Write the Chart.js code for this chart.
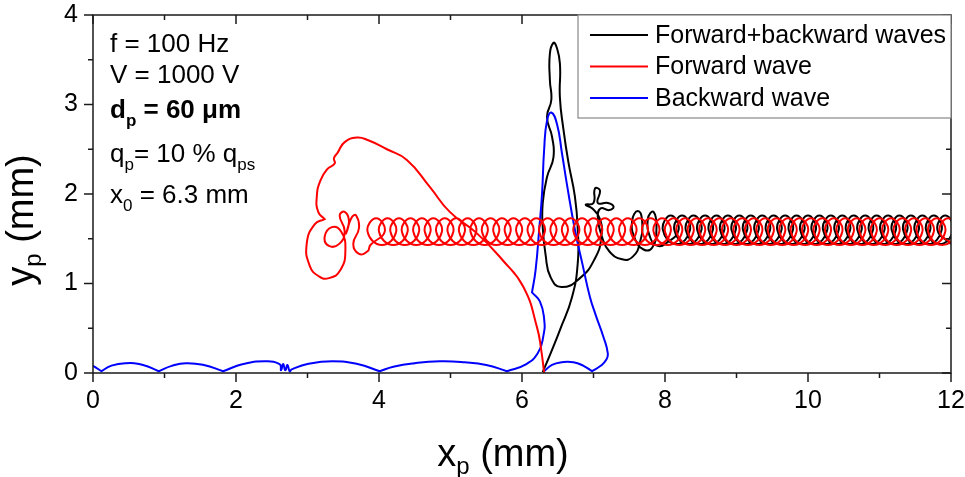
<!DOCTYPE html>
<html>
<head>
<meta charset="utf-8">
<script src="https://cdn.jsdelivr.net/npm/chart.js@4.4.0/dist/chart.umd.min.js"></script>
<style>
  html, body { margin: 0; padding: 0; background: #fff; }
</style>
</head>
<body>
<canvas id="chart" width="965" height="477"></canvas>
<script>
// Axis ticks (mm)
const xTicks = [0, 2, 4, 6, 8, 10, 12];
const yTicks = [0, 1, 2, 3, 4];
const xMinor = [1, 3, 5, 7, 9, 11];
const yMinor = [0.5, 1.5, 2.5, 3.5];

const seriesLabels = ['Forward+backward waves', 'Forward wave', 'Backward wave'];
const seriesColors = ['#000000', '#ff0000', '#0000ff'];

// Forward+backward waves: [x, y] in mm
const blackSpike = [
  [6.29,0.01],[6.40,0.22],[6.53,0.48],[6.70,0.85],[6.78,1.23],[6.78,1.60],[6.74,1.97],
  [6.65,2.35],[6.58,2.72],[6.53,3.08],[6.53,3.46],[6.48,3.65],[6.44,3.69],[6.39,3.57],
  [6.39,3.27],[6.41,3.05],[6.35,2.86],[6.42,2.64],[6.44,2.41],[6.35,2.19],[6.29,1.90],
  [6.29,1.63],[6.33,1.32],[6.40,1.07],[6.55,0.96],[6.81,1.06],[7.02,1.28],[7.11,1.52],
  [7.09,1.72],[6.98,1.84],[6.89,1.88]
];
const blackCurl = [
  [7.00,1.90],[7.02,2.06],[7.09,2.04],[7.06,1.90],[7.20,1.90],[7.28,1.86],[7.22,1.82],
  [7.10,1.84],[7.06,1.74],[7.12,1.52],[7.22,1.36],[7.40,1.27],[7.55,1.30],[7.65,1.46],
  [7.68,1.70],[7.62,1.81],[7.54,1.70],[7.58,1.50],[7.70,1.38],[7.82,1.40],[7.88,1.60],
  [7.84,1.80],[7.76,1.72],[7.80,1.50],[7.90,1.42]
];
const blackLoops = [
  [8.00,1.44],[8.19,1.60],[8.08,1.76],[7.97,1.60],
  [8.16,1.44],[8.35,1.60],[8.24,1.76],[8.13,1.60],
  [8.32,1.44],[8.51,1.60],[8.40,1.76],[8.29,1.60],
  [8.48,1.44],[8.67,1.60],[8.56,1.76],[8.45,1.60],
  [8.64,1.44],[8.83,1.60],[8.72,1.76],[8.61,1.60],
  [8.80,1.44],[8.99,1.60],[8.88,1.76],[8.77,1.60],
  [8.96,1.44],[9.15,1.60],[9.04,1.76],[8.93,1.60],
  [9.12,1.44],[9.31,1.60],[9.20,1.76],[9.09,1.60],
  [9.28,1.44],[9.47,1.60],[9.36,1.76],[9.25,1.60],
  [9.44,1.44],[9.63,1.60],[9.52,1.76],[9.41,1.60],
  [9.60,1.44],[9.79,1.60],[9.68,1.76],[9.57,1.60],
  [9.76,1.44],[9.95,1.60],[9.84,1.76],[9.73,1.60],
  [9.92,1.44],[10.11,1.60],[10.00,1.76],[9.89,1.60],
  [10.08,1.44],[10.27,1.60],[10.16,1.76],[10.05,1.60],
  [10.24,1.44],[10.43,1.60],[10.32,1.76],[10.21,1.60],
  [10.40,1.44],[10.59,1.60],[10.48,1.76],[10.37,1.60],
  [10.56,1.44],[10.75,1.60],[10.64,1.76],[10.53,1.60],
  [10.72,1.44],[10.91,1.60],[10.80,1.76],[10.69,1.60],
  [10.88,1.44],[11.07,1.60],[10.96,1.76],[10.85,1.60],
  [11.04,1.44],[11.23,1.60],[11.12,1.76],[11.01,1.60],
  [11.20,1.44],[11.39,1.60],[11.28,1.76],[11.17,1.60],
  [11.36,1.44],[11.55,1.60],[11.44,1.76],[11.33,1.60],
  [11.52,1.44],[11.71,1.60],[11.60,1.76],[11.49,1.60],
  [11.68,1.44],[11.87,1.60],[11.76,1.76],[11.65,1.60],
  [11.84,1.44],[12.03,1.60],[11.92,1.76],[11.81,1.60],
  [12.00,1.44]
];

// Forward wave
const redApproach = [
  [6.31,0.00],[6.27,0.25],[6.21,0.51],[6.02,0.96],[5.73,1.26],[5.37,1.56],[4.99,1.80],
  [4.71,2.08],[4.39,2.38],[4.11,2.50],[3.85,2.60],[3.69,2.63],[3.52,2.58],[3.42,2.46],
  [3.37,2.40],[3.38,2.34],[3.28,2.28],[3.18,2.15],[3.13,1.97],[3.15,1.80],[3.24,1.72],
  [3.24,1.72],[3.10,1.66],[2.99,1.45],[3.03,1.20],[3.16,1.08],[3.30,1.06],[3.46,1.15],
  [3.53,1.38],[3.47,1.58],[3.34,1.63],[3.24,1.52],[3.30,1.42],[3.44,1.44],[3.52,1.58],
  [3.45,1.76],[3.52,1.80],[3.58,1.70],[3.54,1.56],[3.62,1.74],[3.68,1.76],[3.72,1.62],
  [3.64,1.44],[3.72,1.33],[3.84,1.36]
];
const redLoops = [
  [3.88,1.43],[4.08,1.58],[3.96,1.73],[3.84,1.58],
  [4.04,1.43],[4.24,1.58],[4.12,1.73],[4.00,1.58],
  [4.20,1.43],[4.40,1.58],[4.28,1.73],[4.16,1.58],
  [4.36,1.43],[4.56,1.58],[4.44,1.73],[4.32,1.58],
  [4.52,1.43],[4.72,1.58],[4.60,1.73],[4.48,1.58],
  [4.68,1.43],[4.88,1.58],[4.76,1.73],[4.64,1.58],
  [4.84,1.43],[5.04,1.58],[4.92,1.73],[4.80,1.58],
  [5.00,1.43],[5.20,1.58],[5.08,1.73],[4.96,1.58],
  [5.16,1.43],[5.36,1.58],[5.24,1.73],[5.12,1.58],
  [5.32,1.43],[5.52,1.58],[5.40,1.73],[5.28,1.58],
  [5.48,1.43],[5.68,1.58],[5.56,1.73],[5.44,1.58],
  [5.64,1.43],[5.84,1.58],[5.72,1.73],[5.60,1.58],
  [5.80,1.43],[6.00,1.58],[5.88,1.73],[5.76,1.58],
  [5.96,1.43],[6.16,1.58],[6.04,1.73],[5.92,1.58],
  [6.12,1.43],[6.32,1.58],[6.20,1.73],[6.08,1.58],
  [6.28,1.43],[6.48,1.58],[6.36,1.73],[6.24,1.58],
  [6.44,1.43],[6.64,1.58],[6.52,1.73],[6.40,1.58],
  [6.60,1.43],[6.80,1.58],[6.68,1.73],[6.56,1.58],
  [6.76,1.43],[6.96,1.58],[6.84,1.73],[6.72,1.58],
  [6.92,1.43],[7.12,1.58],[7.00,1.73],[6.88,1.58],
  [7.08,1.43],[7.28,1.58],[7.16,1.73],[7.04,1.58],
  [7.24,1.43],[7.44,1.58],[7.32,1.73],[7.20,1.58],
  [7.40,1.43],[7.60,1.58],[7.48,1.73],[7.36,1.58],
  [7.56,1.43],[7.76,1.58],[7.64,1.73],[7.52,1.58],
  [7.72,1.43],[7.92,1.58],[7.80,1.73],[7.68,1.58],
  [7.88,1.43],[8.08,1.58],[7.96,1.73],[7.84,1.58],
  [8.04,1.43],[8.24,1.58],[8.12,1.73],[8.00,1.58],
  [8.20,1.43],[8.40,1.58],[8.28,1.73],[8.16,1.58],
  [8.36,1.43],[8.56,1.58],[8.44,1.73],[8.32,1.58],
  [8.52,1.43],[8.72,1.58],[8.60,1.73],[8.48,1.58],
  [8.68,1.43],[8.88,1.58],[8.76,1.73],[8.64,1.58],
  [8.84,1.43],[9.04,1.58],[8.92,1.73],[8.80,1.58],
  [9.00,1.43],[9.20,1.58],[9.08,1.73],[8.96,1.58],
  [9.16,1.43],[9.36,1.58],[9.24,1.73],[9.12,1.58],
  [9.32,1.43],[9.52,1.58],[9.40,1.73],[9.28,1.58],
  [9.48,1.43],[9.68,1.58],[9.56,1.73],[9.44,1.58],
  [9.64,1.43],[9.84,1.58],[9.72,1.73],[9.60,1.58],
  [9.80,1.43],[10.00,1.58],[9.88,1.73],[9.76,1.58],
  [9.96,1.43],[10.16,1.58],[10.04,1.73],[9.92,1.58],
  [10.12,1.43],[10.32,1.58],[10.20,1.73],[10.08,1.58],
  [10.28,1.43],[10.48,1.58],[10.36,1.73],[10.24,1.58],
  [10.44,1.43],[10.64,1.58],[10.52,1.73],[10.40,1.58],
  [10.60,1.43],[10.80,1.58],[10.68,1.73],[10.56,1.58],
  [10.76,1.43],[10.96,1.58],[10.84,1.73],[10.72,1.58],
  [10.92,1.43],[11.12,1.58],[11.00,1.73],[10.88,1.58],
  [11.08,1.43],[11.28,1.58],[11.16,1.73],[11.04,1.58],
  [11.24,1.43],[11.44,1.58],[11.32,1.73],[11.20,1.58],
  [11.40,1.43],[11.60,1.58],[11.48,1.73],[11.36,1.58],
  [11.56,1.43],[11.76,1.58],[11.64,1.73],[11.52,1.58],
  [11.72,1.43],[11.92,1.58],[11.80,1.73],[11.68,1.58],
  [11.88,1.43],[12.08,1.58],[11.96,1.73],[11.84,1.58],
  [12.04,1.43]
];

// Backward wave (cusp points doubled so the corners stay sharp)
const blueSpike = [
  [6.31,0.02],[6.31,0.02],[6.42,0.09],[6.56,0.12],[6.72,0.12],[6.86,0.08],[6.98,0.02],
  [6.98,0.02],[7.10,0.08],[7.18,0.15],[7.20,0.22],[7.14,0.40],[7.03,0.65],[6.95,0.85],
  [6.85,1.20],[6.74,1.60],[6.63,2.10],[6.56,2.45],[6.49,2.78],[6.41,2.91],[6.35,2.82],
  [6.31,2.50],[6.28,2.00],[6.24,1.60],[6.19,1.15],[6.14,0.90],[6.14,0.90],[6.25,0.80],
  [6.31,0.60],[6.30,0.42],[6.22,0.22],[6.04,0.09]
];
const blueFloor = [
  [5.79,0.02],[5.79,0.02],[5.50,0.09],[5.20,0.12],[4.85,0.13],[4.50,0.11],[4.20,0.07],
  [4.01,0.02],[4.01,0.02],[3.70,0.10],[3.35,0.13],[3.00,0.10],[2.78,0.04],[2.75,0.02],
  [2.72,0.09],[2.69,0.03],[2.66,0.10],[2.63,0.03],[2.61,0.10],[2.40,0.13],[2.10,0.10],
  [1.82,0.02],[1.82,0.02],[1.55,0.09],[1.30,0.11],[1.10,0.08],[0.92,0.02],[0.92,0.02],
  [0.70,0.09],[0.45,0.11],[0.25,0.08],[0.12,0.02],[0.12,0.02],[0.00,0.08],[-0.10,0.12]
];

const FONT = '"Liberation Sans", Arial, sans-serif';

function pts(arr) {
  return arr.map(p => ({ x: p[0], y: p[1] }));
}

// text with subscripts: parts = [[text, isSub], ...]
function richWidth(ctx, parts, size, bold) {
  let w = 0;
  for (const [t, sub] of parts) {
    ctx.font = (bold ? 'bold ' : '') + (sub ? Math.round(size * 0.64) : size) + 'px ' + FONT;
    w += ctx.measureText(t).width;
  }
  return w;
}
function drawRich(ctx, x, y, parts, size, bold, drop) {
  const d = drop || 0.3;
  for (const [t, sub] of parts) {
    ctx.font = (bold ? 'bold ' : '') + (sub ? Math.round(size * 0.64) : size) + 'px ' + FONT;
    ctx.fillText(t, x, sub ? y + size * d : y);
    x += ctx.measureText(t).width;
  }
}

const framePlugin = {
  id: 'frame',
  afterDatasetsDraw(chart) {
    const { ctx, chartArea: a, scales } = chart;
    const sx = scales.x, sy = scales.y;
    ctx.save();

    // frame and ticks
    ctx.strokeStyle = '#1a1a1a';
    ctx.lineWidth = 1.5;
    ctx.strokeRect(a.left, a.top, a.right - a.left, a.bottom - a.top);
    function seg(x1, y1, x2, y2) {
      ctx.beginPath(); ctx.moveTo(x1, y1); ctx.lineTo(x2, y2); ctx.stroke();
    }
    xTicks.forEach(v => {
      const p = sx.getPixelForValue(v);
      seg(p, a.bottom, p, a.bottom + 9);
      seg(p, a.top, p, a.top + 9);
    });
    xMinor.forEach(v => {
      const p = sx.getPixelForValue(v);
      seg(p, a.bottom, p, a.bottom + 5);
      seg(p, a.top, p, a.top + 5);
    });
    yTicks.forEach(v => {
      const p = sy.getPixelForValue(v);
      seg(a.left - 9, p, a.left, p);
      seg(a.right - 9, p, a.right, p);
    });
    yMinor.forEach(v => {
      const p = sy.getPixelForValue(v);
      seg(a.left - 5, p, a.left, p);
      seg(a.right - 5, p, a.right, p);
    });

    // legend
    const lx = 578, lw = a.right - lx, lh = 103;
    ctx.fillStyle = '#fff';
    ctx.fillRect(lx, a.top, lw, lh);
    ctx.strokeStyle = '#888';
    ctx.lineWidth = 1.2;
    ctx.strokeRect(lx, a.top, lw, lh);
    ctx.textBaseline = 'middle';
    chart.data.datasets.forEach((ds, i) => {
      const ry = a.top + 20 + i * 31.5;
      ctx.strokeStyle = ds.borderColor;
      ctx.lineWidth = 2;
      seg(lx + 12, ry, lx + 70, ry);
      ctx.fillStyle = '#000';
      ctx.font = '25px ' + FONT;
      ctx.fillText(ds.label, lx + 77, ry + 1);
    });

    // parameter block
    ctx.textBaseline = 'alphabetic';
    ctx.fillStyle = '#000';
    const tx = 110, fs = 26;
    drawRich(ctx, tx, 52, [['f = 100 Hz', false]], fs, false);
    drawRich(ctx, tx, 83, [['V = 1000 V', false]], fs, false);
    drawRich(ctx, tx, 118, [['d', false], ['p', true], [' = 60 \u03bcm', false]], fs, true);
    drawRich(ctx, tx, 162, [['q', false], ['p', true], ['= 10 % q', false], ['ps', true]], fs, false);
    drawRich(ctx, tx, 203, [['x', false], ['0', true], [' = 6.3 mm', false]], fs, false);

    // axis titles
    const ts = 38;
    const xt = [['x', false], ['p', true], [' (mm)', false]];
    const xw = richWidth(ctx, xt, ts, false);
    drawRich(ctx, 503 - xw / 2, 466, xt, ts, false, 0.2);

    const yt = [['y', false], ['p', true], [' (mm)', false]];
    const yw = richWidth(ctx, yt, ts, false);
    ctx.translate(33, 220);
    ctx.rotate(-Math.PI / 2);
    drawRich(ctx, -yw / 2, 0, yt, ts, false, 0.2);

    ctx.restore();
  }
};

new Chart(document.getElementById('chart'), {
  type: 'scatter',
  data: {
    datasets: [
      { label: seriesLabels[0], data: pts(blackSpike.concat(blackCurl, blackLoops)),
        borderColor: seriesColors[0], showLine: true, order: 2 },
      { label: seriesLabels[1], data: pts(redApproach.concat(redLoops)),
        borderColor: seriesColors[1], showLine: true, order: 0 },
      { label: seriesLabels[2], data: pts(blueSpike.concat(blueFloor)),
        borderColor: seriesColors[2], showLine: true, order: 1 }
    ]
  },
  options: {
    responsive: false,
    animation: false,
    events: [],
    elements: {
      point: { radius: 0, hoverRadius: 0 },
      line: { borderWidth: 2, tension: 0.5, fill: false }
    },
    layout: { padding: { top: 15, right: 14, left: 0, bottom: 0 } },
    plugins: { legend: { display: false }, tooltip: { enabled: false } },
    scales: {
      x: {
        type: 'linear', min: 0, max: 12,
        afterBuildTicks: s => { s.ticks = xTicks.map(v => ({ value: v })); },
        afterFit: s => { s.height = 104; s.paddingLeft = 0; s.paddingRight = 0; },
        grid: { display: false },
        border: { display: false },
        ticks: { font: { family: FONT, size: 25 }, color: '#000', padding: 5, maxRotation: 0 }
      },
      y: {
        type: 'linear', min: 0, max: 4,
        afterBuildTicks: s => { s.ticks = yTicks.map(v => ({ value: v })); },
        afterFit: s => { s.width = 93; s.paddingTop = 0; s.paddingBottom = 0; },
        grid: { display: false },
        border: { display: false },
        ticks: { font: { family: FONT, size: 25 }, color: '#000', padding: 7 }
      }
    }
  },
  plugins: [framePlugin]
});
</script>
</body>
</html>
